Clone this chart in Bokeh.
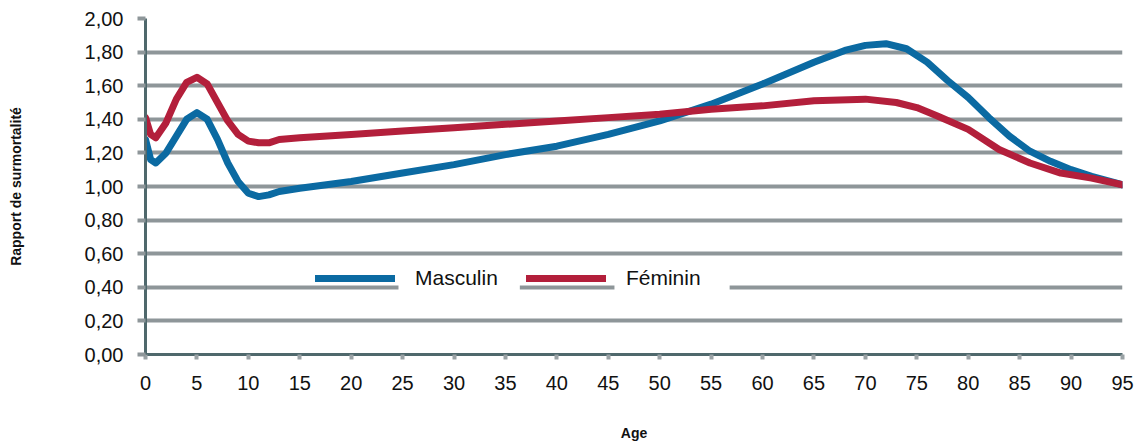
from bokeh.plotting import figure
from bokeh.models import (Range1d, FixedTicker, CustomJSTickFormatter, Legend,
                          LegendItem, BoxAnnotation)
from bokeh.embed import file_html
from bokeh.resources import INLINE

# ---- data ----
ages_m = [0, 0.5, 1, 2, 3, 4, 5, 6, 7, 8, 9, 10, 11, 12, 13, 15, 20, 25, 30, 35,
          40, 45, 50, 55, 60, 65, 68, 70, 72, 74, 76, 78, 80, 82, 84, 86, 88,
          90, 92, 95]
masculin = [1.28, 1.16, 1.14, 1.20, 1.30, 1.40, 1.44, 1.40, 1.28, 1.14, 1.03,
            0.96, 0.94, 0.95, 0.97, 0.99, 1.03, 1.08, 1.13, 1.19, 1.24, 1.31,
            1.39, 1.49, 1.61, 1.74, 1.81, 1.84, 1.85, 1.82, 1.74, 1.63, 1.53,
            1.41, 1.30, 1.21, 1.15, 1.10, 1.06, 1.01]

ages_f = [0, 0.5, 1, 2, 3, 4, 5, 6, 7, 8, 9, 10, 11, 12, 13, 15, 20, 25, 30, 35,
          40, 45, 50, 55, 60, 65, 70, 73, 75, 77, 80, 83, 86, 89, 92, 95]
feminin = [1.41, 1.31, 1.29, 1.38, 1.52, 1.62, 1.65, 1.61, 1.50, 1.39, 1.31,
           1.27, 1.26, 1.26, 1.28, 1.29, 1.31, 1.33, 1.35, 1.37, 1.39, 1.41,
           1.43, 1.46, 1.48, 1.51, 1.52, 1.50, 1.47, 1.42, 1.34, 1.22, 1.14,
           1.08, 1.05, 1.01]

x_ticks = list(range(0, 100, 5))
y_ticks = [0, 0.2, 0.4, 0.6, 0.8, 1.0, 1.2, 1.4, 1.6, 1.8, 2.0]
series_names = ["Masculin", "Féminin"]
x_title = "Age"
y_title = "Rapport de surmortalité"

FONT = "Liberation Sans"
BLUE = "#0b6aa2"
RED = "#b31f3b"
GRID = "#8e9699"
AXIS = "#4f686c"

p = figure(width=1135, height=443, output_backend="svg", toolbar_location=None,
           x_range=Range1d(0, 95), y_range=Range1d(0, 2),
           min_border_left=145, min_border_right=13, min_border_top=18,
           min_border_bottom=80)
p.outline_line_color = None
p.background_fill_color = "white"

# grid
p.xgrid.grid_line_color = None
p.ygrid.grid_line_color = GRID
p.ygrid.grid_line_width = 4
p.ygrid.ticker = FixedTicker(ticks=y_ticks)

# x axis
p.xaxis.ticker = FixedTicker(ticks=x_ticks)
p.xaxis.axis_line_color = AXIS
p.xaxis.axis_line_width = 3
p.xaxis.major_tick_line_color = "#9aa2a5"
p.xaxis.major_tick_line_width = 4
p.xaxis.major_tick_out = 5
p.xaxis.major_tick_in = 0
p.xaxis.minor_tick_line_color = None
p.xaxis.major_label_text_font = FONT
p.xaxis.major_label_text_font_size = "20px"
p.xaxis.major_label_text_color = "#111111"
p.xaxis.major_label_standoff = 16
p.xaxis.axis_label = x_title
p.xaxis.axis_label_text_font = FONT
p.xaxis.axis_label_text_font_style = "bold"
p.xaxis.axis_label_text_font_size = "14px"
p.xaxis.axis_label_text_color = "#111111"
p.xaxis.axis_label_standoff = 32

# y axis
p.yaxis.ticker = FixedTicker(ticks=y_ticks)
p.yaxis.formatter = CustomJSTickFormatter(code="return tick.toFixed(2).replace('.', ',');")
p.yaxis.axis_line_color = AXIS
p.yaxis.axis_line_width = 3
p.yaxis.major_tick_line_color = GRID
p.yaxis.major_tick_line_width = 4
p.yaxis.major_tick_out = 8
p.yaxis.major_tick_in = 0
p.yaxis.minor_tick_line_color = None
p.yaxis.major_label_text_font = FONT
p.yaxis.major_label_text_font_size = "20px"
p.yaxis.major_label_text_color = "#111111"
p.yaxis.major_label_standoff = 14
p.yaxis.axis_label = y_title
p.yaxis.axis_label_text_font = FONT
p.yaxis.axis_label_text_font_style = "bold"
p.yaxis.axis_label_text_font_size = "14px"
p.yaxis.axis_label_text_color = "#111111"
p.yaxis.axis_label_standoff = 58

# white patches behind legend labels (break the gridline as in the original)
for l, r in [(24.6, 36.4), (45.6, 56.8)]:
    p.add_layout(BoxAnnotation(left=l, right=r, bottom=0.36, top=0.45,
                               fill_color="white", fill_alpha=1,
                               line_color=None, level="underlay"))

r_m = p.line(ages_m, masculin, line_color=BLUE, line_width=7, line_cap="round",
             line_join="round")
r_f = p.line(ages_f, feminin, line_color=RED, line_width=7, line_cap="round",
             line_join="round")

legend = Legend(items=[LegendItem(label=series_names[0], renderers=[r_m]),
                       LegendItem(label=series_names[1], renderers=[r_f])],
                orientation="horizontal", location=(170, 61),
                glyph_width=80, glyph_height=10, label_height=30,
                label_standoff=20, spacing=28, padding=0, margin=0,
                background_fill_alpha=0, border_line_color=None,
                label_text_font=FONT, label_text_font_size="21px",
                label_text_color="#111111")
p.add_layout(legend)

open("out.html", "w").write(file_html(p, INLINE))
